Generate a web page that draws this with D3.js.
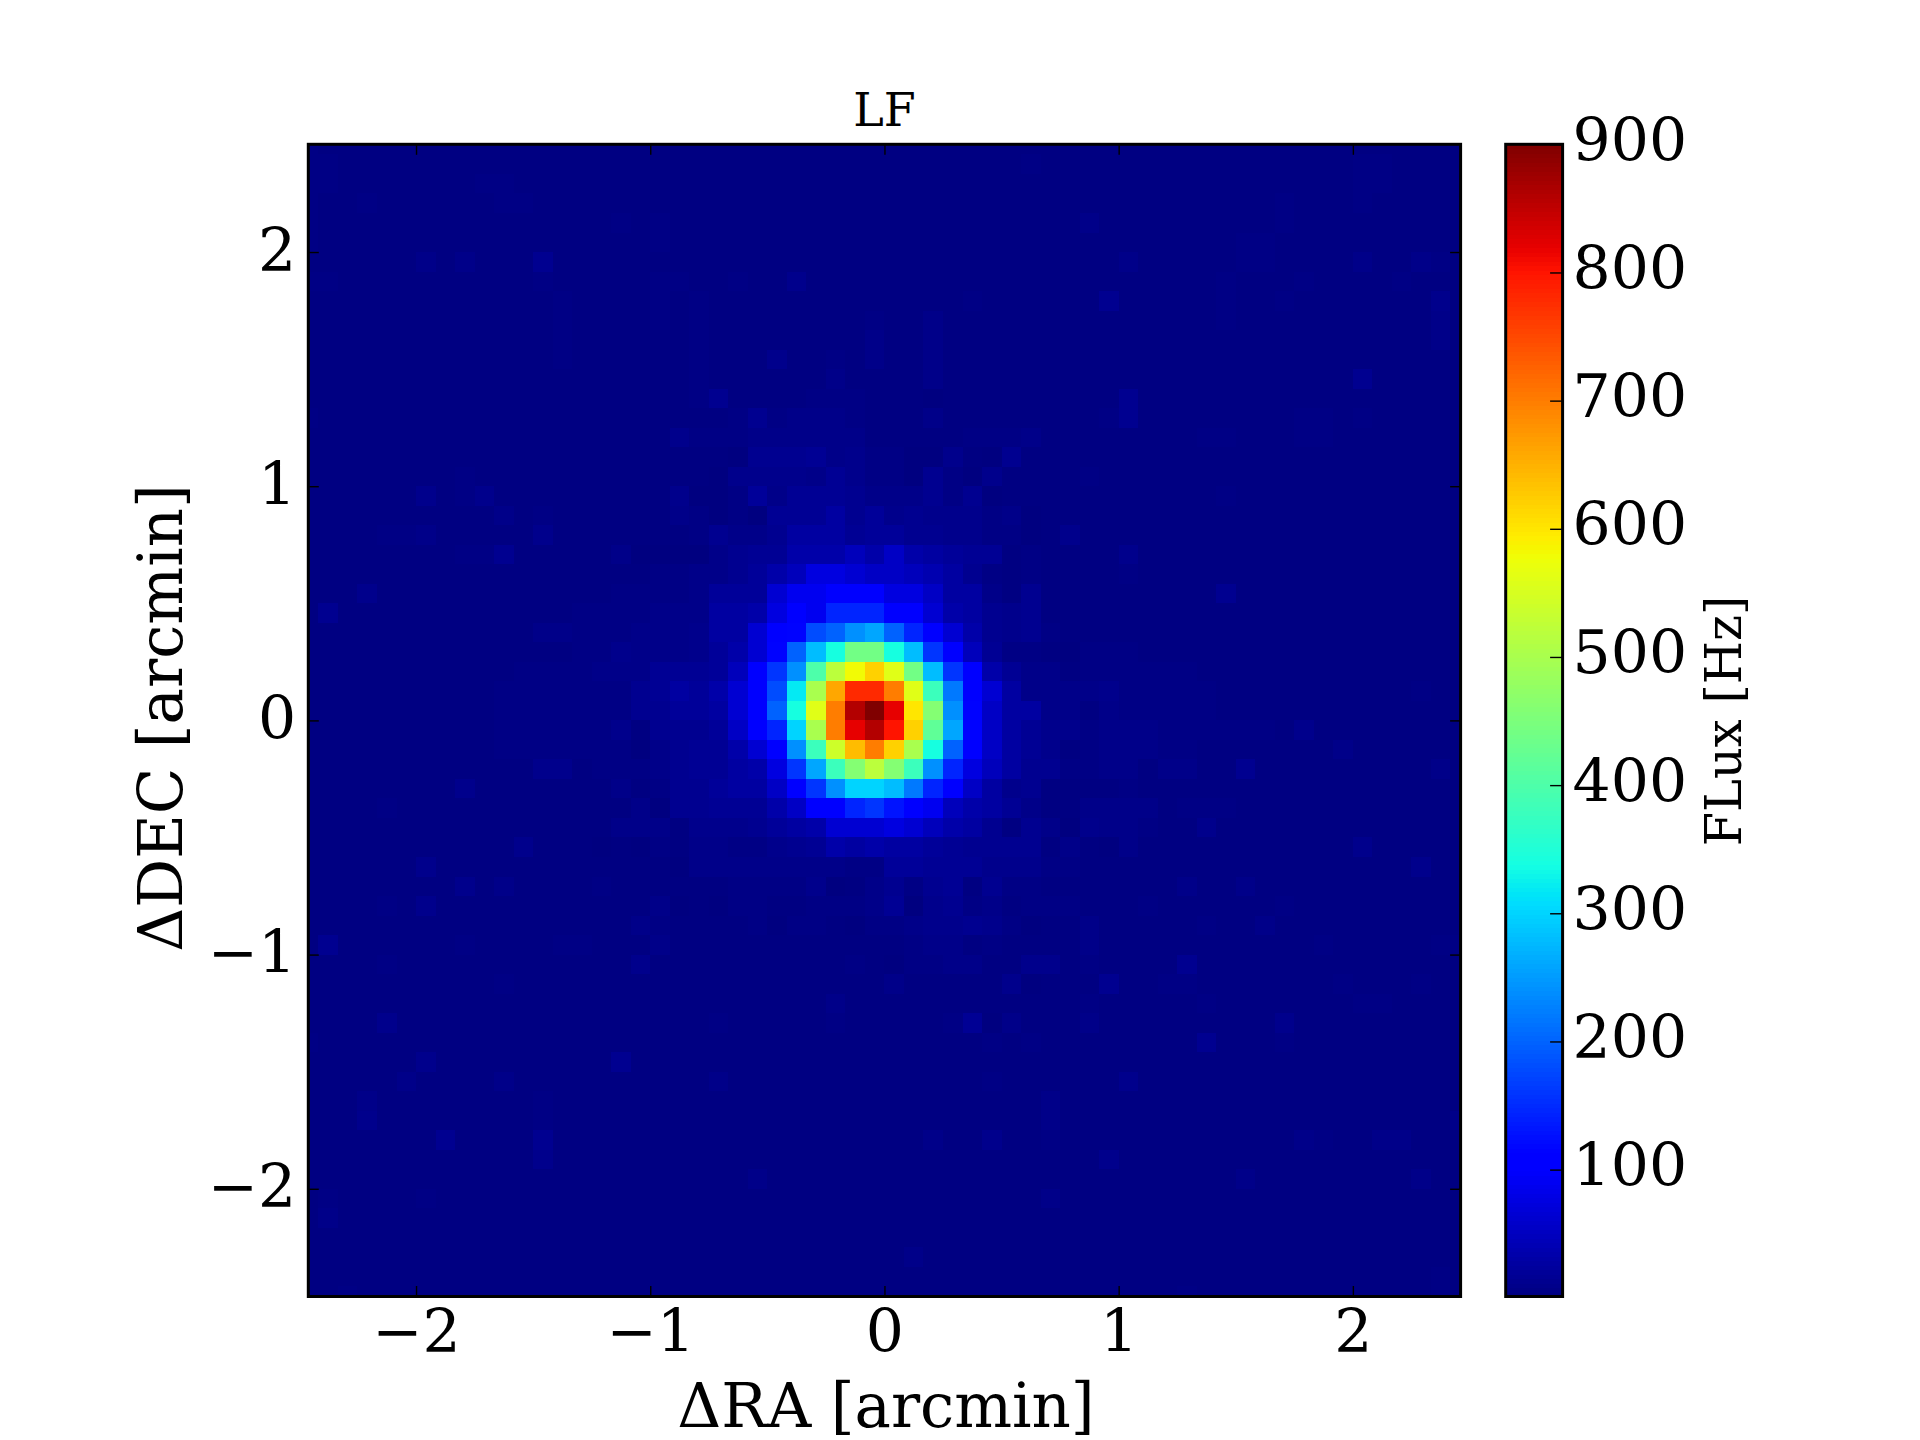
<!DOCTYPE html>
<html>
<head>
<meta charset="utf-8">
<script src="https://cdn.jsdelivr.net/npm/d3@7"></script>
<style>
html,body{margin:0;padding:0;background:#fff;}
svg{display:block;}
text{font-family:"DejaVu Serif",serif;fill:#000;}
</style>
</head>
<body>
<svg id="chart" width="1920" height="1440"></svg>
<script>
const titleText = "LF";
const xLabelText = "ΔRA [arcmin]";
const yLabelText = "ΔDEC [arcmin]";
const cbarLabelText = "FLux [Hz]";
const xTicks = [-2,-1,0,1,2];
const yTicks = [-2,-1,0,1,2];
const cbarTicks = [100,200,300,400,500,600,700,800,900];
const axisLimit = 2.46;
const pixelEdge = 2.5;
const pixelsPerArcmin = 12;
const fluxDomain = [1,900];

// Flux in Hz for each code used in the map rows
const levelCodes = "0123456789abcdefghijklmnopqrstuvwxyzABCDEFGHIJKLMNOPQRSTUV";
const levelHz = [1,3,5,8,11,14,17,21,27,33,39,47,55,65,76,88,100,115,130,145,160,180,200,220,240,260,280,300,320,340,360,380,400,420,440,460,480,500,520,540,560,580,600,620,640,660,680,700,720,740,760,780,800,820,840,860,880,900];

// Beam map: 60 rows (north to south), 60 columns (west to east)
const mapRows = [
"2111111111 1111111111 1111111111 1111111111 1111111111 1111111111",
"2211111111 1111111111 1111111111 1111111211 1111111111 1111221111",
"2211111112 2111111111 1111111111 1111111111 1111111111 1111221111",
"2112111111 2211111111 1111111111 1111111111 1111111111 2111211111",
"2111111111 1111112121 1111111111 1111111111 3111111111 2111111111",
"2111111111 1111111121 1111111111 1111111111 1111111122 1111111111",
"1111113131 1151111111 1111111111 1111111111 1131111122 1111311321",
"2211111111 1121111122 1121141111 1111111111 1111111211 1211112111",
"1111111111 1112111121 2111111111 1111211111 1511111211 2111111141",
"1111111111 1112111121 2111111112 1131111111 1111111211 1111111131",
"1111111111 1112111111 2111111113 1131111111 1111111111 1111111131",
"1111111111 1112111111 2111411213 1131111111 1111111111 1111111111",
"1111111111 1111111111 2111111311 1131111111 1111111111 1111511111",
"1111111111 1111111111 2511112221 1101111111 1151111111 1111111111",
"2111111111 1111111111 1125233321 1131111111 1251111111 1221211111",
"1111111111 1111111114 2223333331 1111222311 1111112211 1221111111",
"1111111111 1111111111 1105556342 2004105111 1111111111 1111111111",
"1111111121 1111111111 1044443642 2052041111 2111111111 1111111111",
"1111114124 1111111114 0027366653 3352501111 1111111211 1111111111",
"1111111111 3121111113 2020666857 4544423011 1111111111 1111111111",
"1111223111 1141111111 2533588867 7554422014 1111111111 1111111111",
"1111111122 5111113000 03566999b9 c987661211 1141111111 1111111111",
"1111111111 1111111122 33579beedc cba8521211 1121111111 1111111111",
"1114111111 1111112222 3777dffggg eec8831511 1111111511 1111111111",
"1511111111 1111222233 3889egfjjj ggd9854511 1111111111 1111111111",
"1111111111 1133222333 488dghlmop mjgd954521 1111111111 1111111111",
"1111111111 1111224333 479dhmqtyy tqkgb62210 2221111111 1111111111",
"1111111111 1222233366 67bgkowCFH Eyqkg96331 2222221111 1111111111",
"1111111111 2222222568 79dglsBJPP LEvngd8333 3422222111 1111111211",
"1111111111 2222222557 78dgmtELTV RGzohc8833 1322222111 1111111111",
"1111111111 2222224155 57cgjrBLRT QHxphc8644 2333222222 1411111111",
"1111111111 2222222035 669dgovDIL HBtmgc8641 2333221111 1113111111",
"1111111111 1144122235 6689ekpvzC zvojeb8552 2331331151 1111111131",
"1111111141 1111113125 5788cgkorr qnjgc84511 1121111111 1111111111",
"1111211111 1111111305 56669cggjk igfb986311 3333122211 1111111111",
"1111111111 1111113331 4445789ddd edb9851530 4332114111 1111111111",
"1111111111 1411101021 3322456989 8876555513 1031111111 1111411111",
"1111114111 1111111110 3333333322 7766644422 1111111111 1111111411",
"1111111141 3111121111 1122224013 5256152211 1111131131 1111111111",
"1111214111 1111111130 1022112223 6045231222 1112111111 2111111111",
"1111111111 1111111321 1112022102 2344542011 3111112113 1111111111",
"1511111121 1112211131 1111111111 1233121111 3111111111 1121111122",
"1111211111 1111111411 1111111121 0223311441 2111151111 1111111111",
"1111111111 2111111111 1111111111 3111114011 1511221111 1112111211",
"1111111111 1111111111 1111111311 1111111111 2111112111 1111221111",
"1111411111 1111111111 1211111211 1112603111 3111111111 4111111111",
"2111111111 1111111111 1111111111 1111121211 1111115111 2111111111",
"1111114111 1111115111 1111111111 1111111111 1111111111 1111111111",
"1111131111 3111111111 1311111111 1111121111 1141111111 1111111111",
"1113111111 1121111111 1111111111 1111111131 1111111111 1111111111",
"1114111111 1121111111 1111111111 1111111131 1111111111 1111111113",
"1111111511 1151111111 1111111111 1131141121 1111111111 1321133111",
"1111111111 1141111111 1111111111 1111111111 1411111111 1111111111",
"1111111111 1111111111 1113111111 1111111111 1111111131 1111111311",
"1211112111 1111111111 1111111111 1111111131 1111111111 1111111111",
"1311111111 1111111111 1111111111 1111111111 1111111111 1111111111",
"1111111111 1111111111 1111111111 1111111111 1111111111 1111111111",
"1111111111 1111111111 1111111111 1311111111 1111111111 1111111111",
"1111111111 1111111111 1111111111 1111111111 1111111111 1111111121",
"1121111111 1111111111 1111111111 1111111111 1111121111 1111111121"
];

// Jet colormap segments
const jetRedStops = [[0,0],[0.35,0],[0.66,1],[0.89,1],[1,0.5]];
const jetGreenStops = [[0,0],[0.125,0],[0.375,1],[0.64,1],[0.91,0],[1,0]];
const jetBlueStops = [[0,0.5],[0.11,1],[0.34,1],[0.65,0],[1,0]];

const channel = stops => d3.scaleLinear().domain(stops.map(s=>s[0])).range(stops.map(s=>s[1]*255)).clamp(true);
const jetR = channel(jetRedStops), jetG = channel(jetGreenStops), jetB = channel(jetBlueStops);
const norm = d3.scaleLinear().domain(fluxDomain).range([0,1]).clamp(true);
const jet = v => { const t = norm(v); return `rgb(${Math.round(jetR(t))},${Math.round(jetG(t))},${Math.round(jetB(t))})`; };

const svg = d3.select("#chart");
const plot = {left:308.3, right:1460.6, top:144.3, bottom:1296.5};
const bar = {left:1505.7, right:1562.6};

const x = d3.scaleLinear().domain([-axisLimit,axisLimit]).range([plot.left,plot.right]);
const y = d3.scaleLinear().domain([-axisLimit,axisLimit]).range([plot.bottom,plot.top]);
const c = d3.scaleLinear().domain(fluxDomain).range([plot.bottom,plot.top]);

svg.append("defs").append("clipPath").attr("id","plotClip").append("rect")
  .attr("x",plot.left).attr("y",plot.top).attr("width",plot.right-plot.left).attr("height",plot.bottom-plot.top);

const cells = [];
mapRows.forEach((row,j)=>{
  const s = row.replace(/ /g,"");
  for(let i=0;i<s.length;i++) cells.push({i,j,v:levelHz[levelCodes.indexOf(s[i])]});
});
svg.append("g").attr("clip-path","url(#plotClip)").attr("shape-rendering","crispEdges")
  .selectAll("rect").data(cells).join("rect")
  .attr("x",d=>x(-pixelEdge+d.i/pixelsPerArcmin))
  .attr("y",d=>y(pixelEdge-d.j/pixelsPerArcmin))
  .attr("width",d=>x(-pixelEdge+(d.i+1)/pixelsPerArcmin)-x(-pixelEdge+d.i/pixelsPerArcmin)+0.5)
  .attr("height",d=>y(pixelEdge-(d.j+1)/pixelsPerArcmin)-y(pixelEdge-d.j/pixelsPerArcmin)+0.5)
  .attr("fill",d=>jet(d.v));

// Colour bar
const barSteps = d3.range(256);
const stepValue = k => fluxDomain[0]+(fluxDomain[1]-fluxDomain[0])*k/256;
svg.append("g").attr("shape-rendering","crispEdges")
  .selectAll("rect").data(barSteps).join("rect")
  .attr("x",bar.left).attr("width",bar.right-bar.left)
  .attr("y",k=>c(stepValue(k+1)))
  .attr("height",k=>c(stepValue(k))-c(stepValue(k+1))+0.6)
  .attr("fill",k=>jet(stepValue(k+0.5)));

const minus = v => String(v).replace("-","\u2212");
const tickLen = 10.5, tickW = 1.4, labelSize = 60;
function styleAxis(g){
  g.select(".domain").remove();
  g.selectAll(".tick line").attr("stroke","#000").attr("stroke-width",tickW);
}
// Bottom and left axes draw labels
const gx = svg.append("g").attr("transform",`translate(0,${plot.bottom})`)
  .call(d3.axisBottom(x).tickValues(xTicks).tickSizeInner(-tickLen).tickSizeOuter(0).tickFormat(minus));
styleAxis(gx);
gx.selectAll(".tick text").attr("font-size",labelSize).attr("dy",null).attr("y",55.5).attr("text-anchor","middle");

const gy = svg.append("g").attr("transform",`translate(${plot.left},0)`)
  .call(d3.axisLeft(y).tickValues(yTicks).tickSizeInner(-tickLen).tickSizeOuter(0).tickFormat(minus));
styleAxis(gy);
gy.selectAll(".tick text").attr("font-size",labelSize).attr("dy",null).attr("x",-12).attr("y",18).attr("text-anchor","end");

// Mirrored ticks on top and right
styleAxis(svg.append("g").attr("transform",`translate(0,${plot.top})`)
  .call(d3.axisTop(x).tickValues(xTicks).tickSizeInner(-tickLen).tickSizeOuter(0).tickFormat("")));
styleAxis(svg.append("g").attr("transform",`translate(${plot.right},0)`)
  .call(d3.axisRight(y).tickValues(yTicks).tickSizeInner(-tickLen).tickSizeOuter(0).tickFormat("")));

// Colour bar ticks
const gc = svg.append("g").attr("transform",`translate(${bar.right},0)`)
  .call(d3.axisRight(c).tickValues(cbarTicks).tickSizeInner(-tickLen-2).tickSizeOuter(0).tickFormat(d3.format("d")));
styleAxis(gc);
gc.selectAll(".tick text").attr("font-size",labelSize).attr("dy",null).attr("x",10).attr("y",16).attr("text-anchor","start");

// Spines
[[plot.left,plot.right],[bar.left,bar.right]].forEach(([l,r])=>{
  svg.append("rect").attr("x",l).attr("y",plot.top).attr("width",r-l).attr("height",plot.bottom-plot.top)
    .attr("fill","none").attr("stroke","#000").attr("stroke-width",3);
});

// Text
svg.append("text").attr("x",(plot.left+plot.right)/2).attr("y",126).attr("text-anchor","middle").attr("font-size",46).text(titleText);
svg.append("text").attr("x",886).attr("y",1427).attr("text-anchor","middle").attr("font-size",61).text(xLabelText);
svg.append("text").attr("transform","translate(182,718) rotate(-90)").attr("text-anchor","middle").attr("font-size",61).text(yLabelText);
svg.append("text").attr("transform","translate(1741,721) rotate(-90)").attr("text-anchor","middle").attr("font-size",49.5).text(cbarLabelText);
</script>
</body>
</html>
